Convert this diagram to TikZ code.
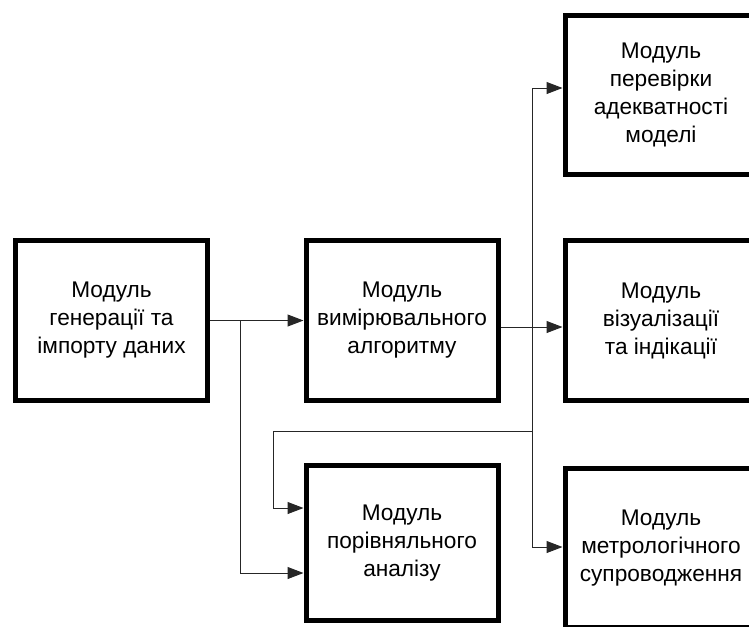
\documentclass[tikz,border=0pt]{standalone}
\usepackage{fontspec}
\setmainfont{Liberation Sans}
\usetikzlibrary{arrows.meta}
\begin{document}
\begin{tikzpicture}[x=0.75pt,y=-0.75pt,
  module/.style={draw=black, line width=3.75pt, minimum width=144pt, minimum height=119.5pt,
    align=center, inner sep=0pt, font=\fontsize{17}{21}\selectfont},
  conn/.style={line width=0.75pt, draw=black!85},
  arr/.style={conn, -{Triangle[length=12pt,width=9pt]}}]
\useasboundingbox (0,0) rectangle (749,626);
\clip (0,0) rectangle (749,626);
% modules
\node[module] (b1) at (111.5,320.5) {Модуль\\генерації та\\імпорту даних};
\node[module] (b2) at (402,320.5) {Модуль\\вимірювального\\алгоритму};
\node[module, minimum height=116.25pt] (b3) at (402,543) {Модуль\\порівняльного\\аналізу};
\node[module] (b4) at (661,95) {Модуль\\перевірки\\адекватності\\моделі};
\node[module] (b5) at (661,320.5) {Модуль\\візуалізації\\та індікації};
\node[module] (b6) at (661,548) {Модуль\\метрологічного\\супроводження};
% junction points
\coordinate (j1) at (240,320.5);
\coordinate (j1b) at (240,573);
\coordinate (j2) at (532,327);
\coordinate (j2t) at (532,88);
\coordinate (j2b) at (532,547);
\coordinate (j3) at (532,431);
\coordinate (j3l) at (273,431);
\coordinate (j3b) at (273,508);
% connectors
\draw[arr] (b1.east) -- (b2.west);
\draw[arr] (j1) -- (j1b) -- (b3.west |- j1b);
\draw[arr] (b2.east |- j2) -- (b5.west |- j2);
\draw[arr] (j2) -- (j2t) -- (b4.west |- j2t);
\draw[arr] (j2) -- (j2b) -- (b6.west |- j2b);
\draw[arr] (j3) -- (j3l) -- (j3b) -- (b3.west |- j3b);
\end{tikzpicture}
\end{document}
